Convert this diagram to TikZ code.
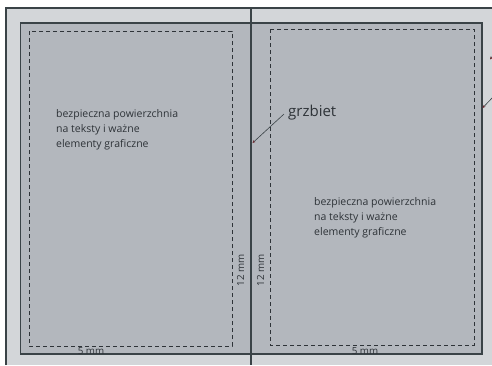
\documentclass[tikz,border=0pt]{standalone}
\usepackage{fontspec}
\setmainfont{Open Sans}
\usetikzlibrary{arrows.meta}
\definecolor{outerbg}{HTML}{D3D6D9}
\definecolor{innerbg}{HTML}{B3B7BD}
\definecolor{edgecol}{HTML}{3A4347}
\definecolor{txtcol}{HTML}{2E3338}
\definecolor{tipcol}{HTML}{6E2A30}
\tikzset{
  frameline/.style={draw=edgecol, line width=1.1pt},
  safezone/.style={draw=txtcol, line width=0.8pt, dash pattern=on 4pt off 3pt},
  bodytext/.style={inner sep=0pt, anchor=base west, align=left, text=txtcol,
     font=\fontsize{10.5}{15}\selectfont},
  smalltext/.style={inner sep=0pt, text=txtcol, font=\fontsize{9.8}{11}\selectfont},
  pointer/.style={draw=edgecol, line width=0.6pt,
     -{Stealth[length=3pt,width=2.6pt,color=tipcol,fill=tipcol]}},
}
\begin{document}
\begin{tikzpicture}[x=1pt,y=-1pt]
\useasboundingbox (0,0) rectangle (492,365);
\fill[white] (0,0) rectangle (492,365);
% outer bleed area
\fill[outerbg] (6,8) rectangle (492,365);
\draw[frameline] (6,365) -- (6,8) -- (492,8);
% trimmed cover
\fill[innerbg] (20.5,23) rectangle (482,354);
\draw[frameline] (20.5,23) rectangle (482,354);
% spine
\coordinate (spinetop) at (251,8);
\coordinate (spinebot) at (251,365);
\draw[frameline] (spinetop) -- (spinebot);
% safe zones
\draw[safezone] (29,31) rectangle (232,346);
\draw[safezone] (270,29) rectangle (474,345);
% texts (base anchor = baseline of the last line)
\node[bodytext] (lefttxt) at (56,147) {bezpieczna powierzchnia\\na teksty i ważne\\elementy graficzne};
\node[bodytext] (righttxt) at (314,235.5) {bezpieczna powierzchnia\\na teksty i ważne\\elementy graficzne};
\node[inner sep=0pt, anchor=base west, text=txtcol, font=\fontsize{15}{18}\selectfont] (spinelbl) at (288,116.5) {grzbiet};
\coordinate (spinept) at (252.5,143);
\draw[pointer] (284,114) -- (spinept);
% dimension labels
\node[smalltext, rotate=90] (dimL) at (240.5,270.5) {12 mm};
\node[smalltext, rotate=90] (dimR) at (260.5,270.5) {12 mm};
\node[smalltext, anchor=base] (dimBL) at (91,354) {5 mm};
\node[smalltext, anchor=base] (dimBR) at (365,354) {5 mm};
% right edge pointers
\coordinate (edgeA) at (494,54);
\coordinate (edgeAt) at (490,59.5);
\draw[pointer] (edgeA) -- (edgeAt);
\coordinate (edgeB) at (494,96);
\coordinate (edgeBt) at (482.5,108);
\draw[pointer] (edgeB) -- (edgeBt);
\end{tikzpicture}
\end{document}
